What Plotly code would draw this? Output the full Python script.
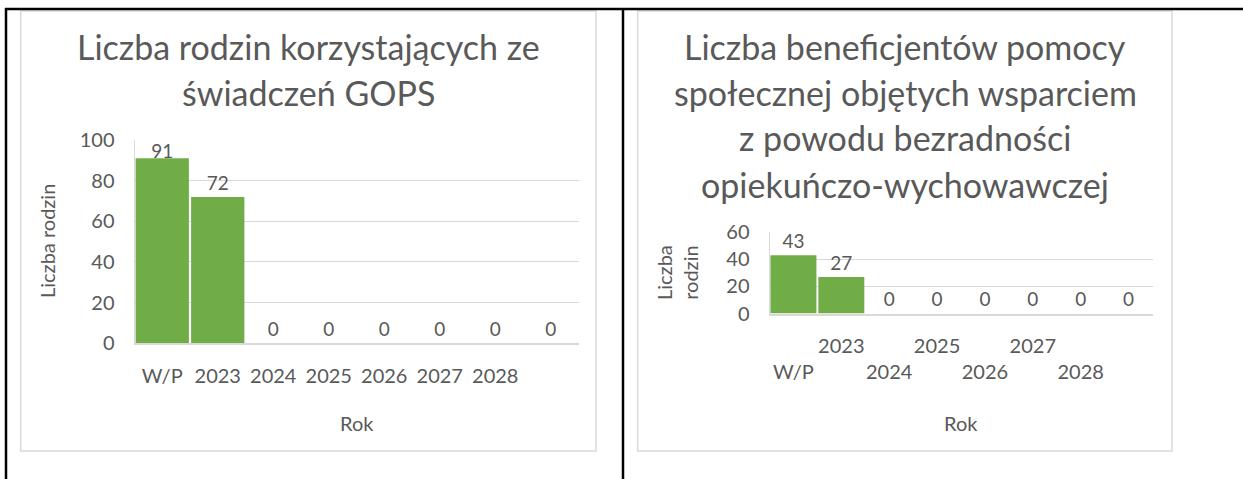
import plotly.graph_objects as go

W, H = 1243, 479

# ---- data ----
categories = ["W/P", "2023", "2024", "2025", "2026", "2027", "2028", ""]
families_values = [91, 72, 0, 0, 0, 0, 0, 0]
beneficiaries_values = [43, 27, 0, 0, 0, 0, 0, 0]

title1_lines = ["Liczba rodzin korzystających ze", "świadczeń GOPS"]
title2_lines = ["Liczba beneficjentów pomocy", "społecznej objętych wsparciem",
                "z powodu bezradności", "opiekuńczo-wychowawczej"]
y1_title = "Liczba rodzin"
y2_title = "Liczba<br>rodzin"
x_title = "Rok"
y1_ticks = [0, 20, 40, 60, 80, 100]
y2_ticks = [0, 20, 40, 60]

# ---- style ----
GREEN = "#70AD47"
GRAY = "#595959"
GRID = "#D9D9D9"
FONT = "Lato"


def px(x):
    return x / W


def py(y):
    return 1 - y / H


xs = list(range(len(categories)))

# label positions (centre of label just above bar, kept inside plot top)
label_y1 = [min(v + 5.9, 93.5) for v in families_values]
label_y2 = [min(v + 8.9, 54.0) for v in beneficiaries_values]

fig = go.Figure()
fig.add_trace(go.Bar(x=xs, y=families_values, marker=dict(color=GREEN, line=dict(width=0)),
                     xaxis="x", yaxis="y", hoverinfo="skip"))
fig.add_trace(go.Scatter(x=xs, y=label_y1, mode="text", text=[str(v) for v in families_values],
                         textfont=dict(family=FONT, size=19, color=GRAY), textposition="middle center",
                         cliponaxis=False, xaxis="x", yaxis="y", hoverinfo="skip"))
fig.add_trace(go.Bar(x=xs, y=beneficiaries_values, marker=dict(color=GREEN, line=dict(width=0)),
                     xaxis="x2", yaxis="y2", hoverinfo="skip"))
fig.add_trace(go.Scatter(x=xs, y=label_y2, mode="text", text=[str(v) for v in beneficiaries_values],
                         textfont=dict(family=FONT, size=19, color=GRAY), textposition="middle center",
                         cliponaxis=False, xaxis="x2", yaxis="y2", hoverinfo="skip"))

tickfont = dict(family=FONT, size=20, color=GRAY)

ticktext2 = [("<br>" + c) if i % 2 == 0 else c for i, c in enumerate(categories)]

fig.update_layout(
    width=W, height=H, autosize=False,
    margin=dict(l=0, r=0, t=0, b=0, pad=0, autoexpand=False),
    paper_bgcolor="white", plot_bgcolor="white",
    showlegend=False, bargap=0.04,
    font=dict(family=FONT, color=GRAY),
    xaxis=dict(domain=[px(134.5), px(578.5)], range=[-0.5, len(categories) - 0.5],
               tickmode="array", tickvals=xs, ticktext=categories, tickfont=tickfont,
               tickangle=0, showgrid=False, showline=True, linecolor=GRID, linewidth=1.5, ticks="",
               zeroline=False, anchor="y", ticklabelstandoff=14, automargin=False, fixedrange=True),
    yaxis=dict(domain=[py(343.3), py(140)], range=[0, 100], tickmode="array", tickvals=y1_ticks,
               tickfont=tickfont, gridcolor=GRID, gridwidth=1, showline=True, linecolor=GRID,
               linewidth=1, zeroline=False, ticks="", anchor="x", ticklabelstandoff=15,
               automargin=False, fixedrange=True),
    xaxis2=dict(domain=[px(769.5), px(1152.5)], range=[-0.5, len(categories) - 0.5],
                tickmode="array", tickvals=xs, ticktext=ticktext2, tickfont=tickfont,
                tickangle=0, showgrid=False, showline=True, linecolor=GRID, linewidth=1.5, ticks="",
                zeroline=False, anchor="y2", ticklabelstandoff=14, automargin=False, fixedrange=True),
    yaxis2=dict(domain=[py(313.5), py(232.3)], range=[0, 60], tickmode="array", tickvals=y2_ticks,
                tickfont=tickfont, gridcolor=GRID, gridwidth=1, showline=True, linecolor=GRID,
                linewidth=1, zeroline=False, ticks="", anchor="x2", ticklabelstandoff=15,
                automargin=False, fixedrange=True),
)

annotations = []
title_font = dict(family=FONT, size=34, color=GRAY)
for i, line in enumerate(title1_lines):
    annotations.append(dict(x=px(308), y=py(46 + 46 * i), xref="paper", yref="paper",
                            text=line, showarrow=False, font=title_font,
                            xanchor="center", yanchor="middle"))
for i, line in enumerate(title2_lines):
    annotations.append(dict(x=px(905), y=py(46 + 46 * i), xref="paper", yref="paper",
                            text=line, showarrow=False, font=title_font,
                            xanchor="center", yanchor="middle"))
axis_font = dict(family=FONT, size=20, color=GRAY)
annotations += [
    dict(x=px(47), y=py(241), xref="paper", yref="paper", text=y1_title, textangle=-90,
         showarrow=False, font=axis_font, xanchor="center", yanchor="middle"),
    dict(x=px(677), y=py(273), xref="paper", yref="paper", text=y2_title, textangle=-90,
         showarrow=False, font=axis_font, xanchor="center", yanchor="middle"),
    dict(x=px(356.5), y=py(423), xref="paper", yref="paper", text=x_title,
         showarrow=False, font=axis_font, xanchor="center", yanchor="middle"),
    dict(x=px(961), y=py(423), xref="paper", yref="paper", text=x_title,
         showarrow=False, font=axis_font, xanchor="center", yanchor="middle"),
]
fig.update_layout(annotations=annotations)

shapes = [
    # chart frames
    dict(type="rect", xref="paper", yref="paper", x0=px(20.7), x1=px(596), y0=py(451), y1=py(11),
         line=dict(color=GRID, width=1.5), layer="below"),
    dict(type="rect", xref="paper", yref="paper", x0=px(637.7), x1=px(1172), y0=py(451), y1=py(11),
         line=dict(color=GRID, width=1.5), layer="below"),
    # table borders
    dict(type="line", xref="paper", yref="paper", x0=px(5), x1=1, y0=py(9), y1=py(9),
         line=dict(color="black", width=2.5)),
    dict(type="line", xref="paper", yref="paper", x0=px(6), x1=px(6), y0=py(8), y1=0,
         line=dict(color="black", width=2.5)),
    dict(type="line", xref="paper", yref="paper", x0=px(623), x1=px(623), y0=py(8), y1=0,
         line=dict(color="black", width=2.5)),
]
fig.update_layout(shapes=shapes)

post_js = (
    "document.body.style.margin='0';"
    "document.body.style.overflow='hidden';"
    "var d=document.getElementById('{plot_id}');"
    "d.style.position='absolute';d.style.left='0px';d.style.top='0px';"
)

fig.write_html("out.html", config={"displayModeBar": False, "responsive": False},
               post_script=post_js)
